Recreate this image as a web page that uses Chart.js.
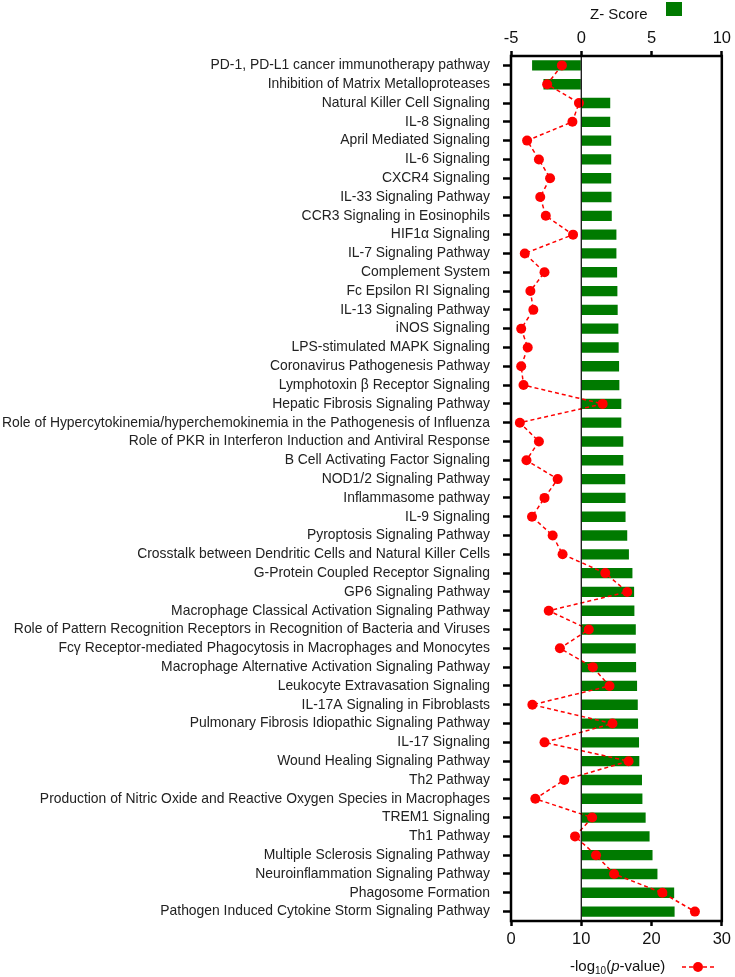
<!DOCTYPE html>
<html>
<head>
<meta charset="utf-8">
<script src="https://cdn.jsdelivr.net/npm/chart.js@4"></script>
<style>
  html, body { margin: 0; padding: 0; background: #fff; }
  #wrap { width: 735px; height: 977px; }
</style>
</head>
<body>
<div id="wrap"><canvas id="myChart" width="735" height="977"></canvas></div>
<script>
const categories = [
  'PD-1, PD-L1 cancer immunotherapy pathway',
  'Inhibition of Matrix Metalloproteases',
  'Natural Killer Cell Signaling',
  'IL-8 Signaling',
  'April Mediated Signaling',
  'IL-6 Signaling',
  'CXCR4 Signaling',
  'IL-33 Signaling Pathway',
  'CCR3 Signaling in Eosinophils',
  'HIF1α Signaling',
  'IL-7 Signaling Pathway',
  'Complement System',
  'Fc Epsilon RI Signaling',
  'IL-13 Signaling Pathway',
  'iNOS Signaling',
  'LPS-stimulated MAPK Signaling',
  'Coronavirus Pathogenesis Pathway',
  'Lymphotoxin β Receptor Signaling',
  'Hepatic Fibrosis Signaling Pathway',
  'Role of Hypercytokinemia/hyperchemokinemia in the Pathogenesis of Influenza',
  'Role of PKR in Interferon Induction and Antiviral Response',
  'B Cell Activating Factor Signaling',
  'NOD1/2 Signaling Pathway',
  'Inflammasome pathway',
  'IL-9 Signaling',
  'Pyroptosis Signaling Pathway',
  'Crosstalk between Dendritic Cells and Natural Killer Cells',
  'G-Protein Coupled Receptor Signaling',
  'GP6 Signaling Pathway',
  'Macrophage Classical Activation Signaling Pathway',
  'Role of Pattern Recognition Receptors in Recognition of Bacteria and Viruses',
  'Fcγ Receptor-mediated Phagocytosis in Macrophages and Monocytes',
  'Macrophage Alternative Activation Signaling Pathway',
  'Leukocyte Extravasation Signaling',
  'IL-17A Signaling in Fibroblasts',
  'Pulmonary Fibrosis Idiopathic Signaling Pathway',
  'IL-17 Signaling',
  'Wound Healing Signaling Pathway',
  'Th2 Pathway',
  'Production of Nitric Oxide and Reactive Oxygen Species in Macrophages',
  'TREM1 Signaling',
  'Th1 Pathway',
  'Multiple Sclerosis Signaling Pathway',
  'Neuroinflammation Signaling Pathway',
  'Phagosome Formation',
  'Pathogen Induced Cytokine Storm Signaling Pathway'
];

// Z-score bars (top axis)
const zScores = [
  -3.5, -2.69, 2.06, 2.06, 2.13, 2.13, 2.13, 2.15, 2.17, 2.50,
  2.50, 2.55, 2.57, 2.59, 2.64, 2.66, 2.69, 2.71, 2.85, 2.85,
  2.99, 2.99, 3.13, 3.15, 3.15, 3.27, 3.39, 3.64, 3.76, 3.78,
  3.88, 3.88, 3.90, 3.97, 4.02, 4.04, 4.11, 4.13, 4.32, 4.35,
  4.58, 4.86, 5.07, 5.42, 6.61, 6.64
];

// -log10(p-value) dots (bottom axis)
const logP = [
  7.24, 5.14, 9.67, 8.74, 2.29, 3.97, 5.56, 4.16, 4.95, 8.83,
  1.96, 4.77, 2.76, 3.18, 1.45, 2.38, 1.45, 1.78, 13.04, 1.26,
  3.97, 2.20, 6.64, 4.77, 2.99, 5.93, 7.34, 13.41, 16.54, 5.37,
  11.07, 6.96, 11.64, 14.02, 3.04, 14.44, 4.77, 16.73, 7.57, 3.46,
  11.54, 9.11, 12.10, 14.67, 21.54, 26.17
];

const zRange = [-5, 10];
const pRange = [0, 30];

const green = 'rgb(0,122,0)';
const red = 'rgb(255,0,0)';
const fontFam = '"Liberation Sans", Arial, sans-serif';

// frame, zero line and the two legend keys
const decorations = {
  id: 'decorations',
  afterDraw(chart) {
    const { ctx, chartArea: { top, bottom, left, right } } = chart;
    ctx.save();
    // frame
    ctx.strokeStyle = '#000';
    ctx.lineWidth = 2.5;
    ctx.strokeRect(left, top, right - left, bottom - top);
    // zero line of the Z-score axis
    const x0 = chart.scales.xz.getPixelForValue(0);
    ctx.lineWidth = 1.2;
    ctx.beginPath();
    ctx.moveTo(x0, top);
    ctx.lineTo(x0, bottom);
    ctx.stroke();

    // top key: Z- Score
    ctx.fillStyle = '#111';
    ctx.font = '15px ' + fontFam;
    ctx.textBaseline = 'middle';
    ctx.textAlign = 'left';
    ctx.fillText('Z- Score', 590, 15);
    ctx.fillStyle = green;
    ctx.fillRect(666, 2, 16, 14);

    // bottom key: -log10(p-value)
    let x = 570;
    const y = 967;
    ctx.fillStyle = '#111';
    ctx.font = '15px ' + fontFam;
    ctx.fillText('-log', x, y);
    x += ctx.measureText('-log').width;
    ctx.font = '10px ' + fontFam;
    ctx.fillText('10', x, y + 4);
    x += ctx.measureText('10').width;
    ctx.font = '15px ' + fontFam;
    ctx.fillText('(', x, y);
    x += ctx.measureText('(').width;
    ctx.font = 'italic 15px ' + fontFam;
    ctx.fillText('p', x, y);
    x += ctx.measureText('p').width;
    ctx.font = '15px ' + fontFam;
    ctx.fillText('-value)', x, y);

    ctx.strokeStyle = red;
    ctx.lineWidth = 1.5;
    ctx.setLineDash([4, 3]);
    ctx.beginPath();
    ctx.moveTo(682, y);
    ctx.lineTo(714, y);
    ctx.stroke();
    ctx.setLineDash([]);
    ctx.fillStyle = red;
    ctx.beginPath();
    ctx.arc(698, y, 5, 0, Math.PI * 2);
    ctx.fill();
    ctx.restore();
  }
};

const data = {
  labels: categories,
  datasets: [
    {
      type: 'line',
      label: '-log10(p-value)',
      data: logP,
      indexAxis: 'y',
      xAxisID: 'xp',
      yAxisID: 'y',
      borderColor: red,
      borderWidth: 1.5,
      borderDash: [4, 3],
      pointRadius: 5,
      pointBackgroundColor: red,
      pointBorderWidth: 0,
      fill: false,
      tension: 0,
      order: 0
    },
    {
      type: 'bar',
      label: 'Z- Score',
      data: zScores,
      xAxisID: 'xz',
      yAxisID: 'y',
      backgroundColor: green,
      barPercentage: 0.55,
      categoryPercentage: 1,
      order: 1
    }
  ]
};

const config = {
  type: 'bar',
  data,
  options: {
    indexAxis: 'y',
    responsive: false,
    animation: false,
    layout: { padding: { left: 0, right: 10, top: 0, bottom: 0 } },
    plugins: {
      legend: { display: false },
      tooltip: { enabled: false }
    },
    scales: {
      y: {
        type: 'category',
        position: 'left',
        offset: true,
        border: { display: false },
        grid: {
          display: true,
          drawOnChartArea: false,
          offset: false,
          tickLength: 8,
          tickWidth: 2.5,
          tickColor: '#000'
        },
        ticks: {
          autoSkip: false,
          padding: 13,
          color: '#222',
          font: { family: fontFam, size: 13.9 }
        },
        afterFit(scale) { scale.width = 511; }
      },
      xz: {
        type: 'linear',
        position: 'top',
        min: zRange[0],
        max: zRange[1],
        border: { display: false },
        grid: {
          display: true,
          drawOnChartArea: false,
          tickLength: 5,
          tickWidth: 2.5,
          tickColor: '#000'
        },
        ticks: {
          stepSize: 5,
          padding: 3,
          color: '#111',
          font: { family: fontFam, size: 16.5 }
        },
        afterFit(scale) { scale.height = 56; }
      },
      xp: {
        type: 'linear',
        position: 'bottom',
        min: pRange[0],
        max: pRange[1],
        border: { display: false },
        grid: {
          display: true,
          drawOnChartArea: false,
          tickLength: 5,
          tickWidth: 2.5,
          tickColor: '#000'
        },
        ticks: {
          stepSize: 10,
          padding: 4,
          color: '#111',
          font: { family: fontFam, size: 16.5 }
        },
        afterFit(scale) { scale.height = 56; }
      }
    }
  },
  plugins: [decorations]
};

const myChart = new Chart(document.getElementById('myChart'), config);
</script>
</body>
</html>
